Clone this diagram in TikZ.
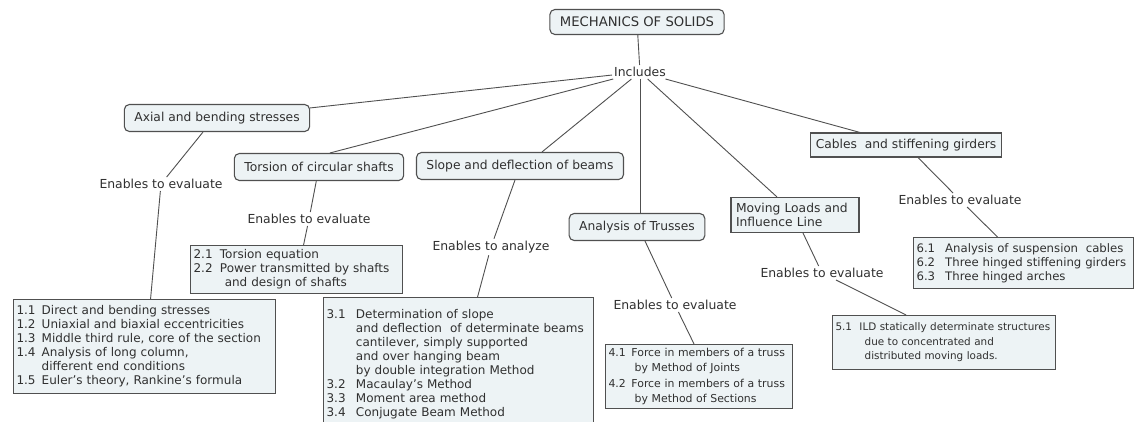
\documentclass[tikz,border=0pt]{standalone}
\usepackage{fontspec}
\setmainfont{DejaVu Sans}
\usetikzlibrary{positioning}

\definecolor{boxfill}{HTML}{EDF3F5}
\definecolor{boxline}{HTML}{505050}
\definecolor{ink}{HTML}{303030}
\newcommand\mapfont[1][12]{\fontsize{#1}{14}\selectfont}
\newcommand\itemno[2][2.1em]{\makebox[#1][l]{#2}}

\begin{document}
\begin{tikzpicture}[x=1pt, y=-1pt,
        topic/.style = {draw=boxline, fill=boxfill, line width=1.1pt, rounded corners=5pt, font={\mapfont[12.3]}, text=ink, inner xsep=10pt, minimum height=27pt},
        flat/.style = {topic, rounded corners=0pt, inner xsep=5pt},
        items/.style = {draw=boxline, fill=boxfill, line width=1.1pt, font=\mapfont, text=ink, align=left, anchor=north west, inner xsep=3pt, inner ysep=2pt},
        phrase/.style = {font={\mapfont[12.4]}, text=ink, inner sep=2pt},
        link/.style = {draw=boxline, line width=0.9pt},
      ]
      \fill[white] (0,0) rectangle (1135,421);
      \useasboundingbox (0,0) rectangle (1135,421);

      % top of the map
      \node[topic, font={\mapfont[13.2]}, minimum height=25pt] (mech) at (637,22) {MECHANICS OF SOLIDS};
      \node[phrase] (incl) at (640,72) {Includes};

      % the six topics
      \node[topic] (axial) at (217,118) {Axial and bending stresses};
      \node[topic] (tors) at (319,167) {Torsion of circular shafts};
      \node[topic] (slope) at (520,166) {Slope and deflection of beams};
      \node[topic] (truss) at (637,227) {Analysis of Trusses};
      \node[flat, align=left, text width=118pt, minimum height=35pt] (move) at (795,215) {Moving Loads and\\Influence Line};
      \node[flat, minimum height=24pt] (cable) at (906,145) {Cables\ \ and stiffening girders};

      % linking phrases
      \node[phrase] (ev1) at (161,184) {Enables to evaluate};
      \node[phrase] (ev2) at (309,219) {Enables to evaluate};
      \node[phrase] (ev3) at (491,247) {Enables to analyze};
      \node[phrase] (ev4) at (675,305) {Enables to evaluate};
      \node[phrase] (ev5) at (822,273) {Enables to evaluate};
      \node[phrase] (ev6) at (960,200) {Enables to evaluate};

      % contents
      \node[items, text width=256pt, minimum height=94pt] (list1) at (13,299) {%
        \itemno{1.1}Direct and bending stresses\\
        \itemno{1.2}Uniaxial and biaxial eccentricities\\
        \itemno{1.3}Middle third rule, core of the section\\
        \itemno{1.4}Analysis of long column,\\
        \hspace*{2.1em}different end conditions\\
        \itemno{1.5}Euler's theory, Rankine's formula};
      \node[items, text width=206pt, minimum height=48pt] (list2) at (190,245) {%
        \itemno[2.2em]{2.1}Torsion equation\\
        \itemno[2.2em]{2.2}Power transmitted by shafts\\
        \hspace*{2.6em}and design of shafts};
      \node[items, text width=264pt, minimum height=134pt] (list3) at (323,297) {%
        \itemno[2.45em]{3.1}Determination of slope\\
        \hspace*{2.45em}and deflection\ \ of determinate beams\\
        \hspace*{2.45em}cantilever, simply supported\\
        \hspace*{2.45em}and over hanging beam\\
        \hspace*{2.45em}by double integration Method\\
        \itemno[2.45em]{3.2}Macaulay's Method\\
        \itemno[2.45em]{3.3}Moment area method\\
        \itemno[2.45em]{3.4}Conjugate Beam Method\\[6pt]};
      \node[items, font={\fontsize{10.9}{15.5}\selectfont}, text width=181pt, minimum height=64pt] (list4) at (605,344) {%
        \itemno{4.1}Force in members of a truss\\
        \hspace*{2.4em}by Method of Joints\\
        \itemno{4.2}Force in members of a truss\\
        \hspace*{2.4em}by Method of Sections};
      \node[items, font={\fontsize{10.4}{14.5}\selectfont}, text width=217pt, minimum height=54pt] (list5) at (832,315) {%
        \itemno[2.3em]{5.1}ILD statically determinate structures\\
        \hspace*{2.8em}due to concentrated and\\
        \hspace*{2.8em}distributed moving loads.};
      \node[items, font={\mapfont[11.7]}, text width=214pt, minimum height=51pt] (list6) at (913,237) {%
        \itemno[2.45em]{6.1}Analysis of suspension\ \ cables\\
        \itemno[2.45em]{6.2}Three hinged stiffening girders\\
        \itemno[2.45em]{6.3}Three hinged arches};

      % connectors
      \draw[link] (mech) -- (incl);
      \draw[link] (incl) -- (axial);
      \draw[link] (incl) -- ([xshift=11pt]tors.north);
      \draw[link] (incl) -- ([xshift=22pt]slope.north);
      \draw[link] (incl) -- (incl |- truss.north);
      \draw[link] (incl) -- ([xshift=-18pt]move.north);
      \draw[link] (incl) -- ([xshift=-46pt]cable.north);

      \draw[link] ([xshift=-14pt]axial.south) -- (ev1);
      \draw[link] (ev1) -- ([xshift=6pt]list1.north);
      \draw[link] (tors) -- (ev2);
      \draw[link] (ev2) -- ([xshift=7pt]list2.north);
      \draw[link] ([xshift=-5pt]slope.south) -- (ev3);
      \draw[link] (ev3) -- ([xshift=19pt]list3.north);
      \draw[link] ([xshift=8pt]truss.south) -- (ev4);
      \draw[link] (ev4) -- ([xshift=-5pt]list4.north);
      \draw[link] ([xshift=8pt]move.south) -- (ev5);
      \draw[link] (ev5) -- ([xshift=-38pt]list5.north);
      \draw[link] ([xshift=12pt]cable.south) -- (ev6);
      \draw[link] (ev6) -- ([xshift=-26pt]list6.north);
    \end{tikzpicture}
\end{document}
